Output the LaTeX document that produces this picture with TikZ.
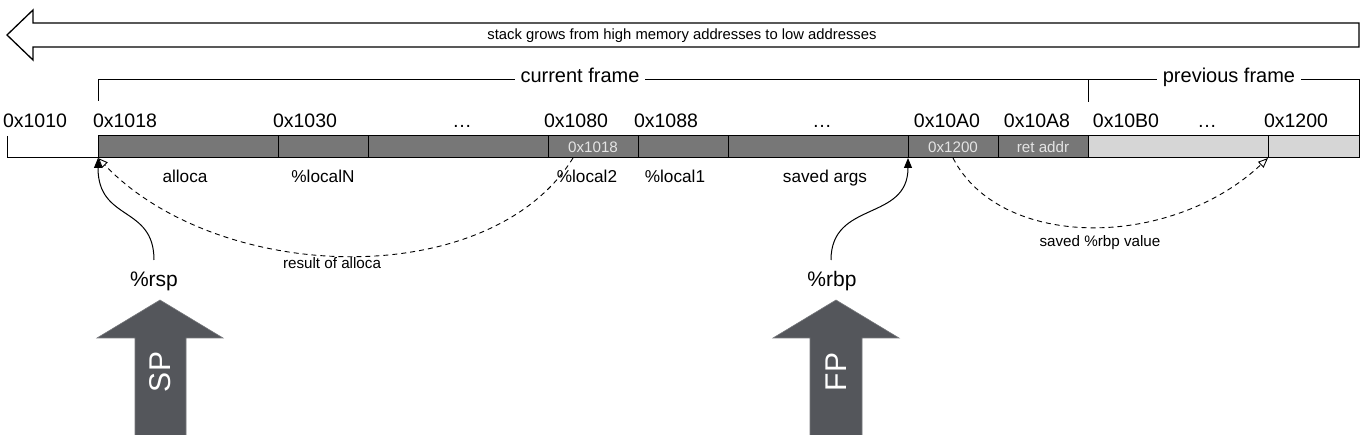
\documentclass[tikz,border=0pt]{standalone}
\usepackage{fontspec}
\setmainfont{Liberation Sans}
\usetikzlibrary{arrows.meta}
\definecolor{darkcell}{HTML}{777777}
\definecolor{lightcell}{HTML}{D6D6D6}
\definecolor{blockarrow}{HTML}{54565B}
\definecolor{celltext}{HTML}{E4E4E4}
\begin{document}
\begin{tikzpicture}[x=1pt,y=-1pt,
  addr/.style={font=\fontsize{19.5}{20}\selectfont, inner sep=0pt, anchor=base},
  blabel/.style={font=\fontsize{17.2}{18}\selectfont, inner sep=0pt, anchor=base},
  clabel/.style={font=\fontsize{15.2}{16}\selectfont, inner sep=0pt, anchor=base},
  framelabel/.style={font=\fontsize{20}{21}\selectfont, fill=white, inner xsep=6pt, inner ysep=1pt, anchor=base},
  reg/.style={font=\fontsize{21}{22}\selectfont, inner sep=0pt, anchor=base},
  cellbase/.style={draw=black, line width=1pt, minimum height=22pt, anchor=north west, inner sep=0pt, outer sep=0pt, text=celltext, font=\fontsize{15.2}{16}\selectfont},
  dcell/.style={cellbase, fill=darkcell},
  lcell/.style={cellbase, fill=lightcell},
  solidarrow/.style={line width=1pt, -{Triangle[length=10pt,width=8pt]}},
  dasharrow/.style={line width=0.9pt, dash pattern=on 5pt off 4pt, -{Triangle[open,length=10pt,width=8pt]}},
  blockshape/.style={fill=blockarrow, draw=blockarrow!80!white, line width=0.6pt},
  blocktext/.style={font=\fontsize{30}{30}\selectfont, text=white, rotate=90, inner sep=0pt},
]
\useasboundingbox (0,0) rectangle (1360,435);

% top arrow
\draw[line width=1.3pt, fill=white] (7,35) -- (33,10) -- (33,23) -- (1359,23) -- (1359,47) -- (33,47) -- (33,60) -- cycle;
\node[clabel, font=\fontsize{14.8}{15}\selectfont] (grow) at (682,40) {stack grows from high memory addresses to low addresses};

% frame brackets
\draw[line width=1pt] (98,101) |- (1088,80) -- (1088,102);
\draw[line width=1pt] (1088,80) -- (1359,80) -- (1359,136);
\node[framelabel] (cur) at (580,83) {current frame};
\node[framelabel] (prev) at (1229,83) {previous frame};

% left bracket for 0x1010
\draw[line width=1pt] (7,136) |- (98,158);

% cells
\node[dcell, minimum width=180pt] (alloca) at (98,136) {};
\node[dcell, minimum width=90pt] (localN) at (278,136) {};
\node[dcell, minimum width=180pt] (mid) at (368,136) {};
\node[dcell, minimum width=90pt] (local2) at (548,136) {0x1018};
\node[dcell, minimum width=90pt] (local1) at (638,136) {};
\node[dcell, minimum width=180pt] (args) at (728,136) {};
\node[dcell, minimum width=90pt] (savedrbp) at (908,136) {0x1200};
\node[dcell, minimum width=90pt] (retaddr) at (998,136) {ret addr};
\node[lcell, minimum width=180pt] (prev1) at (1088,136) {};
\node[lcell, minimum width=91pt] (prev2) at (1268,136) {};

% address labels
\node[addr] (a1010) at (35,128) {0x1010};
\node[addr] (a1018) at (125,128) {0x1018};
\node[addr] (a1030) at (305,128) {0x1030};
\node[addr] (d1) at (462,128) {…};
\node[addr] (a1080) at (576,128) {0x1080};
\node[addr] (a1088) at (666,128) {0x1088};
\node[addr] (d2) at (822,128) {…};
\node[addr] (a10A0) at (947,128) {0x10A0};
\node[addr] (a10A8) at (1037,128) {0x10A8};
\node[addr] (a10B0) at (1126,128) {0x10B0};
\node[addr] (d3) at (1207,128) {…};
\node[addr] (a1200) at (1296,128) {0x1200};

% labels under cells
\node[blabel] (lalloca) at (185,183) {alloca};
\node[blabel] (llocalN) at (323,183) {\%localN};
\node[blabel] (llocal2) at (587,183) {\%local2};
\node[blabel] (llocal1) at (675,183) {\%local1};
\node[blabel] (largs) at (825,183) {saved args};

% dashed arrows
\draw[dasharrow] ([xshift=-20pt]local2.south) .. controls (490,292) and (220,285) .. (alloca.south west);
\node[clabel] (res) at (332,269) {result of alloca};
\draw[dasharrow] (savedrbp.south) .. controls (1000,250) and (1170,250) .. (prev2.south west);
\node[clabel] (srbp) at (1100,247) {saved \%rbp value};

% registers
\node[reg] (rsp) at (154,287) {\%rsp};
\node[reg] (rbp) at (832,287) {\%rbp};
\draw[solidarrow] (154,260) .. controls (154,205) and (98,222) .. (alloca.south west);
\draw[solidarrow] (831,260) .. controls (831,200) and (908,222) .. (savedrbp.south west);

% block arrows
\draw[blockshape] (160,300) -- (223,338) -- (186,338) -- (186,436) -- (135,436) -- (135,338) -- (97,338) -- cycle;
\node[blocktext] (sp) at (160,372) {SP};
\draw[blockshape] (836,300) -- (899,338) -- (862,338) -- (862,436) -- (810,436) -- (810,338) -- (773,338) -- cycle;
\node[blocktext] (fp) at (836,372) {FP};
\end{tikzpicture}
\end{document}
